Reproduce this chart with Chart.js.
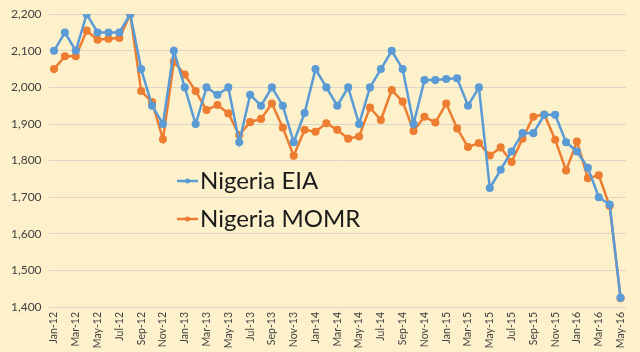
<!DOCTYPE html>
<html>
<head>
<meta charset="utf-8">
<script src="https://cdn.jsdelivr.net/npm/chart.js@4/dist/chart.umd.min.js"></script>
<style>
  html, body { margin: 0; padding: 0; background: #fdf1cc; }
  #wrap { width: 640px; height: 352px; }
</style>
</head>
<body>
<div id="wrap"><canvas id="myChart" width="640" height="352"></canvas></div>
<script>
// months Jan-12 .. May-16
const months = ['Jan','Feb','Mar','Apr','May','Jun','Jul','Aug','Sep','Oct','Nov','Dec'];
const labels = [];
for (let y = 12; y <= 16; y++) {
  for (let m = 0; m < 12; m++) {
    if (y === 16 && m > 4) break;
    labels.push(months[m] + '-' + y);
  }
}

const eia = [
  2100, 2150, 2100, 2200, 2150, 2150, 2150, 2200, 2050, 1950, 1900, 2100,
  2000, 1900, 2000, 1980, 2000, 1850, 1980, 1950, 2000, 1950, 1850, 1930,
  2050, 2000, 1950, 2000, 1900, 2000, 2050, 2100, 2050, 1900, 2020, 2020,
  2023, 2025, 1950, 2000, 1725, 1775, 1825, 1875, 1875, 1925, 1925, 1850,
  1825, 1780, 1700, 1680, 1425
];
const momr = [
  2050, 2085, 2085, 2155, 2130, 2133, 2135, 2200, 1990, 1960, 1858, 2070,
  2035, 1990, 1938, 1952, 1929, 1870, 1905, 1914, 1956, 1890, 1813, 1884,
  1879, 1902, 1884, 1860, 1866, 1945, 1911, 1993, 1961, 1881, 1920, 1904,
  1956, 1888, 1837, 1848, 1814, 1836, 1796, 1860, 1920, 1926, 1857, 1773,
  1852, 1752, 1760, 1676, 1424
];
const seriesNames = ['Nigeria EIA', 'Nigeria MOMR'];
const colors = ['#5b9bd5', '#ed7d31'];
const fontFam = 'Lato, "Open Sans", sans-serif';

const bgPlugin = {
  id: 'bg',
  beforeDraw(chart) {
    const c = chart.ctx;
    c.save();
    c.fillStyle = '#fdf1cc';
    c.fillRect(0, 0, chart.width, chart.height);
    c.restore();
  }
};

// legend drawn inside the plot, like the original
const legendPlugin = {
  id: 'innerLegend',
  afterDatasetsDraw(chart) {
    const c = chart.ctx;
    c.save();
    c.font = '24px ' + fontFam;
    c.textBaseline = 'middle';
    seriesNames.forEach((name, i) => {
      const y = 181 + i * 38;
      c.strokeStyle = colors[i];
      c.lineWidth = 2.5;
      c.beginPath();
      c.moveTo(177, y);
      c.lineTo(198, y);
      c.stroke();
      c.fillStyle = colors[i];
      c.beginPath();
      c.arc(187.5, y, 2.5, 0, Math.PI * 2);
      c.fill();
      c.fillStyle = '#1a1a1a';
      c.fillText(name, 200, y);
    });
    c.restore();
  }
};

const ctx = document.getElementById('myChart');
new Chart(ctx, {
  type: 'line',
  data: {
    labels: labels,
    datasets: [
      { label: seriesNames[0], data: eia, borderColor: colors[0], backgroundColor: colors[0],
        borderWidth: 2.5, pointRadius: 2.8, pointHoverRadius: 2.8, tension: 0 },
      { label: seriesNames[1], data: momr, borderColor: colors[1], backgroundColor: colors[1],
        borderWidth: 2.5, pointRadius: 2.8, pointHoverRadius: 2.8, tension: 0 }
    ]
  },
  options: {
    responsive: false,
    animation: false,
    layout: { padding: { top: 3, right: 14, bottom: 1, left: 4 } },
    plugins: { legend: { display: false }, tooltip: { enabled: false } },
    scales: {
      x: {
        offset: true,
        grid: { display: false, drawTicks: false, tickLength: 0 },
        border: { display: false },
        afterFit(scale) { scale.height = 44; },
        ticks: {
          autoSkip: false,
          maxRotation: 90,
          minRotation: 90,
          padding: 5,
          color: '#404040',
          font: { family: fontFam, size: 10.5 },
          callback: function(val, i) { return i % 2 === 0 ? labels[i] : null; }
        }
      },
      y: {
        min: 1400,
        max: 2200,
        ticks: {
          stepSize: 100,
          color: '#404040',
          padding: 7,
          font: { family: fontFam, size: 12 },
          callback: v => v.toLocaleString('en-US')
        },
        grid: { color: '#dcd6c4', drawTicks: false },
        border: { display: false }
      }
    }
  },
  plugins: [bgPlugin, legendPlugin]
});
</script>
</body>
</html>
